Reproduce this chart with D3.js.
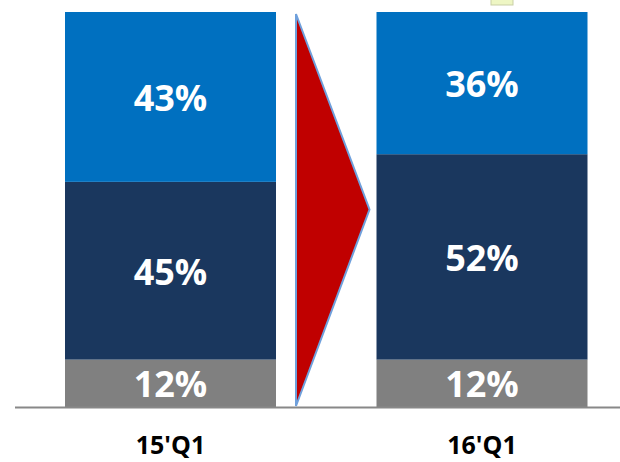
<!DOCTYPE html>
<html>
<head>
<meta charset="utf-8">
<script src="https://cdn.jsdelivr.net/npm/d3@7"></script>
<style>
  html, body { margin: 0; padding: 0; background: #fff; }
  svg { display: block; }
</style>
</head>
<body>
<script>
// quarters and stacked shares (bottom to top)
var categories = ["15'Q1", "16'Q1"];
var other = [12, 12];
var mid = [45, 52];
var top_ = [43, 36];
var colors = ["#808080", "#1a375e", "#0070c0"];

var W = 620, H = 462;
var baseY = 407, topY = 12, barW = 211;

var svg = d3.select("body").append("svg")
    .attr("width", W)
    .attr("height", H)

var x = d3.scalePoint().domain(categories).range([170.5, 482])
var y = d3.scaleLinear().domain([0, 100]).range([baseY, topY])

var rows = categories.map(function (c, i) {
  return { cat: c, other: other[i], mid: mid[i], top: top_[i] }
})
var stack = d3.stack().keys(["other", "mid", "top"])(rows)

var layer = svg.selectAll("g.layer")
  .data(stack)
  .enter().append("g")
    .attr("class", "layer")
    .attr("fill", function (d, i) { return colors[i] })

layer.selectAll("rect")
  .data(function (d) { return d })
  .enter().append("rect")
    .attr("x", function (d) { return x(d.data.cat) - barW / 2 })
    .attr("y", function (d) { return y(d[1]) })
    .attr("width", barW)
    .attr("height", function (d) { return y(d[0]) - y(d[1]) })

layer.selectAll("text")
  .data(function (d) { return d })
  .enter().append("text")
    .attr("x", function (d) { return x(d.data.cat) })
    .attr("y", function (d) { return (y(d[0]) + y(d[1])) / 2 + 14 })
    .attr("text-anchor", "middle")
    .attr("fill", "#fff")
    .style("font-family", "'Open Sans', sans-serif")
    .style("font-weight", "bold")
    .style("font-size", "36px")
    .text(function (d) { return Math.round(d[1] - d[0]) + "%" })

// baseline
svg.append("line")
  .attr("x1", 15).attr("x2", W)
  .attr("y1", baseY + 0.5).attr("y2", baseY + 0.5)
  .attr("stroke", "#888").attr("stroke-width", 2)

// category labels
svg.selectAll("text.cat")
  .data(categories)
  .enter().append("text")
    .attr("class", "cat")
    .attr("x", function (d) { return x(d) })
    .attr("y", 454)
    .attr("text-anchor", "middle")
    .attr("fill", "#000")
    .style("font-family", "'Open Sans', sans-serif")
    .style("font-weight", "bold")
    .style("font-size", "25px")
    .text(function (d) { return d })

// arrow between the bars
var ax = x(categories[0]) + barW / 2 + 20
var tip = x(categories[1]) - barW / 2 - 7
svg.append("path")
  .attr("d", "M" + ax + "," + (topY + 2) + "L" + tip + "," + y(50) + "L" + ax + "," + (baseY - 1) + "Z")
  .attr("fill", "#c00000")
  .attr("stroke", "#6fa0dc")
  .attr("stroke-width", 2)
  .attr("stroke-linejoin", "miter")

// small note box clipped at the top
svg.append("rect")
  .attr("x", 491).attr("y", -10)
  .attr("width", 22).attr("height", 15)
  .attr("fill", "#eef6c4")
  .attr("stroke", "#c9cfa6")
  .attr("stroke-width", 1)
</script>
</body>
</html>
